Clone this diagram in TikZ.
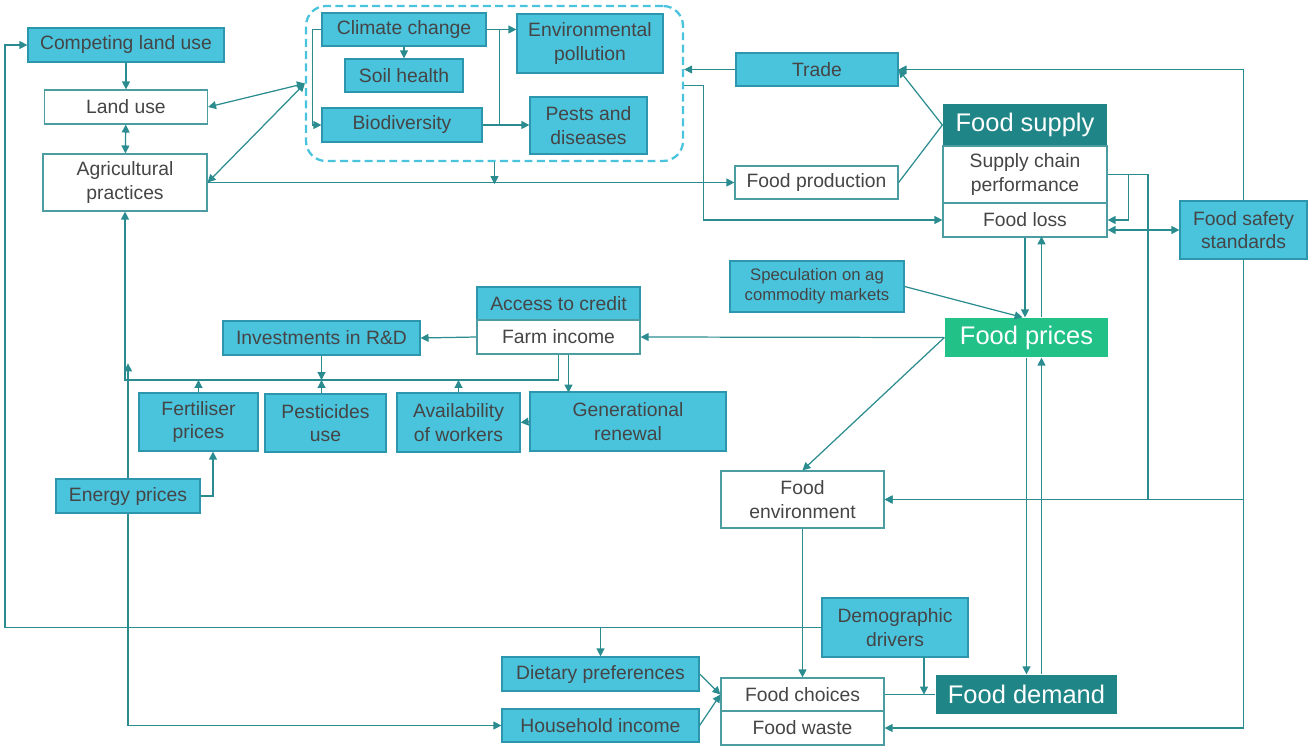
\documentclass[tikz,border=0pt]{standalone}
\usepackage{fontspec}
\setmainfont{Liberation Sans}
\usetikzlibrary{arrows.meta,calc}
\definecolor{boxcyan}{HTML}{4AC3DD}
\definecolor{edgecyan}{HTML}{2C97AC}
\definecolor{darkteal}{HTML}{1F8586}
\definecolor{pricegreen}{HTML}{21C188}
\definecolor{linkteal}{HTML}{2B8C90}
\definecolor{labelgray}{HTML}{454545}
\begin{document}
\begin{tikzpicture}[x=0.02cm,y=-0.02cm,
    nbox/.style={draw=edgecyan,line width=0.7pt,inner sep=0pt,align=center,
      text=labelgray,font=\fontsize{11}{13.2}\selectfont},
    cbox/.style={nbox,fill=boxcyan},
    wbox/.style={nbox,draw=linkteal!85,fill=white},
    hbox/.style={nbox,draw=none,fill=darkteal,text=white,font=\fontsize{14.5}{17}\selectfont},
    sz/.style 2 args={minimum width=#1*0.02cm,minimum height=#2*0.02cm},
    conn/.style={draw=linkteal,line width=0.7pt,-{Triangle[length=4.5pt,width=4.5pt]}},
    dconn/.style={conn,{Triangle[length=4.5pt,width=4.5pt]}-{Triangle[length=4.5pt,width=4.5pt]}},
    plain/.style={draw=linkteal,line width=0.7pt}]
  \useasboundingbox (0,0) rectangle (1308,747);
  % land
  \node[cbox,sz={196}{34}] (clu) at (126,45) {Competing land use};
  \node[wbox,sz={163}{34}] (lu) at (126,107) {Land use};
  \node[wbox,sz={164}{57}] (ap) at (125,182.5) {Agricultural\\practices};
  % environment cluster
  \node[draw=boxcyan,dashed,dash pattern=on 4.5pt off 2.5pt,line width=1.3pt,
    rounded corners=0.4cm,inner sep=0pt,sz={377}{155}] (env) at (494.5,83.5) {};
  \node[cbox,sz={164}{33}] (cc) at (404,29.5) {Climate change};
  \node[cbox,sz={118}{33}] (sh) at (404,75.5) {Soil health};
  \node[cbox,sz={160}{34}] (bio) at (402,125) {Biodiversity};
  \node[cbox,sz={146}{59}] (ep) at (590,43.5) {Environmental\\pollution};
  \node[cbox,sz={117}{57}] (pd) at (588.5,125.5) {Pests and\\diseases};
  % supply
  \node[cbox,sz={162}{33}] (trade) at (817,69.5) {Trade};
  \node[wbox,sz={163}{33}] (fp) at (816.5,182.5) {Food production};
  \node[hbox,sz={164}{42}] (fs) at (1025,125) {Food supply};
  \node[wbox,sz={164}{57}] (scp) at (1025,174.5) {Supply chain\\performance};
  \node[wbox,sz={164}{34}] (fl) at (1025,220) {Food loss};
  \node[cbox,sz={127}{58}] (fss) at (1243.5,230) {Food safety\\standards};
  \node[cbox,sz={174}{51},font=\fontsize{9.5}{11.5}\selectfont] (spec) at (817,286.5) {Speculation on ag\\commodity markets};
  \node[hbox,fill=pricegreen,sz={163}{39}] (fpr) at (1026.5,337.5) {Food prices};
  % farm
  \node[cbox,sz={163}{33}] (ac) at (558.5,303.5) {Access to credit};
  \node[wbox,sz={163}{34}] (fi) at (558.5,337) {Farm income};
  \node[cbox,sz={197}{34}] (rd) at (321.5,338) {Investments in R\&D};
  \node[cbox,sz={119}{58}] (fert) at (198.5,422) {Fertiliser\\prices};
  \node[cbox,sz={121}{58}] (pest) at (325.5,423) {Pesticides\\use};
  \node[cbox,sz={123}{59}] (avail) at (458.5,422.5) {Availability\\of workers};
  \node[cbox,sz={196}{59}] (gen) at (628,421.5) {Generational\\renewal};
  \node[cbox,sz={144}{34}] (energy) at (128,496) {Energy prices};
  \coordinate (bus) at (0,380);
  % demand
  \node[wbox,sz={163}{57}] (fenv) at (802.5,499.5) {Food\\environment};
  \node[cbox,sz={146}{59}] (demo) at (895,627.5) {Demographic\\drivers};
  \node[cbox,sz={197}{34}] (diet) at (600.5,674) {Dietary preferences};
  \node[cbox,sz={197}{33}] (hh) at (600.5,725.5) {Household income};
  \node[wbox,sz={163}{33}] (fc) at (802.5,694.5) {Food choices};
  \node[wbox,sz={163}{34}] (fw) at (802.5,728) {Food waste};
  \node[hbox,sz={181}{39}] (fd) at (1026.5,694.5) {Food demand};

  % links on the left
  \draw[conn] (demo.west) -| (5,300) |- (clu.west);
  \draw[conn] (demo.west) -| (diet.north);
  \draw[conn] (clu) -- (lu);
  \draw[dconn] (lu) -- (ap);
  \draw[dconn] (lu.east) -- (env.west);
  \draw[dconn] (ap.east) -- (env.west);
  \draw[conn] (ap.east) -- (fp.west);
  \draw[conn] (env.south) -- ++(0,22);
  % inside the cluster
  \draw[conn] (cc.west) -- ++(-9,0) |- (bio.west);
  \draw[conn] (cc) -- (sh);
  \draw[conn] (cc.east) -- (cc.east -| ep.west);
  \draw[conn] (bio.east) -- (bio.east -| pd.west);
  \draw[plain] ($(cc.east)+(13,0)$) -- ($(bio.east)+(17,0)$);
  % supply side
  \draw[conn] (trade.west) -- (trade.west -| env.east);
  \draw[conn] ($(env.east)+(0,2)$) -- ++(19,0) |- (fl.west);
  \draw[conn] (fs.west) -- (trade.east);
  \draw[plain] (fp.east) -- (fs.west);
  \draw[conn] (fss.north) |- (trade.east);
  \draw[conn] (fss.south) |- (fenv.east);
  \draw[conn] (fss.south) |- (fw.east);
  \draw[conn] (scp.east) -| (1148,499.5) -- (fenv.east);
  \draw[conn] ($(scp.east)+(21,0)$) |- (fl.east);
  \draw[dconn] (fss.west) -- (fss.west -| fl.east);
  \draw[conn] (fl.south) -- (fl.south |- fpr.north);
  \draw[conn] ($(fpr.north)+(15,0)$) -- ++(0,-81);
  \draw[conn] (spec.east) -- ($(fpr.north)+(-4,0)$);
  \draw[conn] (fpr.west) -- (fi.east);
  \draw[conn] (fpr.west) -- (fenv.north);
  \draw[conn] (fpr.south) -- (fd.north);
  \draw[conn] ($(fd.north)+(15,0)$) -- ($(fpr.south)+(15,0)$);
  % farm
  \draw[conn] (fi.west) -- (rd.east);
  \draw[conn] (fi.south) |- (ap.south |- bus) -- (ap.south);
  \draw[conn] ($(fi.south)+(10,0)$) -- ++(0,38);
  \draw[conn] (rd.south) -- (rd.south |- bus);
  \draw[conn] (fert.north) -- (fert.north |- bus);
  \draw[conn] (pest.north -| rd.south) -- (rd.south |- bus);
  \draw[conn] (avail.north) -- (avail.north |- bus);
  \draw[conn] (gen.west) -- (avail.east);
  \draw[conn] (energy.north) -- ++(0,-115);
  \draw[conn] (energy.east) -| ($(fert.south)+(14.5,0)$);
  \draw[conn] (energy.south) |- (hh.west);
  % demand
  \draw[conn] (diet.east) -- (fc.west);
  \draw[conn] (hh.east) -- (fc.west);
  \draw[conn] (fenv.south) -- (fc.north);
  \draw[plain] (fc.east) -- (fd.west);
  \draw[conn] ($(demo.south)+(29,0)$) -- ++(0,37);
\end{tikzpicture}
\end{document}
